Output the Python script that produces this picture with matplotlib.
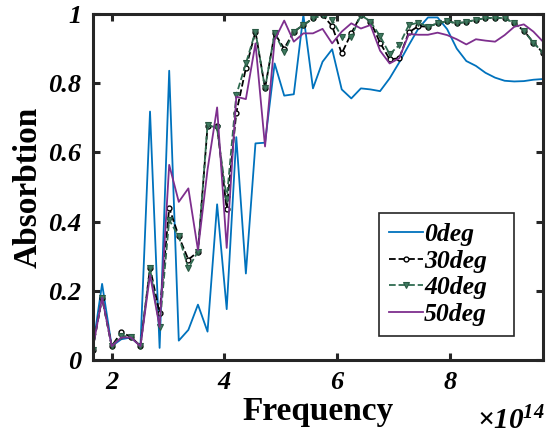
import matplotlib
matplotlib.use('Agg')
import matplotlib.pyplot as plt

# frequency grid (units of 1e14 Hz)
freq = [1.66, 1.83, 2.00, 2.17, 2.34, 2.51, 2.68, 2.85, 3.02, 3.19, 3.36, 3.53,
        3.70, 3.87, 4.04, 4.21, 4.38, 4.55, 4.72, 4.89, 5.06, 5.23, 5.40, 5.57,
        5.74, 5.91, 6.08, 6.25, 6.42, 6.59, 6.76, 6.93, 7.10, 7.27, 7.44, 7.61,
        7.78, 7.95, 8.12, 8.29, 8.46, 8.63, 8.80, 8.97, 9.14, 9.31, 9.48, 9.65]

abs_0deg = [0.03, 0.22, 0.04, 0.06, 0.065, 0.04, 0.718, 0.035, 0.836, 0.056, 0.087, 0.16,
            0.082, 0.45, 0.147, 0.644, 0.25, 0.626, 0.628, 0.857, 0.764, 0.768, 0.997, 0.785,
            0.862, 0.898, 0.782, 0.756, 0.785, 0.782, 0.777, 0.814, 0.86, 0.91, 0.958, 0.99,
            0.99, 0.956, 0.90, 0.864, 0.85, 0.83, 0.816, 0.807, 0.805, 0.806, 0.81, 0.812]

abs_30deg = [0.03, 0.18, 0.04, 0.08, 0.067, 0.04, 0.267, 0.135, 0.44, 0.357, 0.29, 0.313,
             0.675, 0.675, 0.436, 0.715, 0.843, 0.949, 0.785, 0.944, 0.90, 0.949, 0.968, 0.987,
             0.997, 0.965, 0.886, 0.944, 0.997, 0.978, 0.917, 0.869, 0.872, 0.947, 0.965, 0.963,
             0.973, 0.979, 0.973, 0.977, 0.983, 0.988, 0.989, 0.988, 0.973, 0.952, 0.917, 0.888]

abs_40deg = [0.03, 0.18, 0.04, 0.07, 0.067, 0.04, 0.265, 0.096, 0.405, 0.357, 0.266, 0.313,
             0.68, 0.67, 0.465, 0.766, 0.857, 0.949, 0.785, 0.944, 0.89, 0.949, 0.968, 0.987,
             0.997, 0.983, 0.934, 0.934, 0.997, 0.978, 0.936, 0.884, 0.91, 0.968, 0.975, 0.963,
             0.973, 0.979, 0.973, 0.977, 0.983, 0.988, 0.989, 0.988, 0.973, 0.952, 0.917, 0.888]

abs_50deg = [0.03, 0.18, 0.04, 0.065, 0.065, 0.04, 0.246, 0.096, 0.564, 0.457, 0.496, 0.318,
             0.55, 0.73, 0.324, 0.761, 0.754, 0.915, 0.617, 0.925, 0.981, 0.92, 0.944, 0.944,
             0.957, 0.915, 0.949, 0.973, 0.958, 0.968, 0.894, 0.857, 0.872, 0.942, 0.94, 0.94,
             0.946, 0.939, 0.927, 0.912, 0.927, 0.923, 0.92, 0.939, 0.963, 0.97, 0.949, 0.92]

serif = 'Liberation Serif'
plt.rcParams['font.family'] = serif
plt.rcParams['mathtext.fontset'] = 'custom'
plt.rcParams['mathtext.rm'] = 'Liberation Serif:italic:bold'
plt.rcParams['mathtext.it'] = 'Liberation Serif:italic:bold'

fig = plt.figure(figsize=(5.52, 4.37), dpi=100)
ax = fig.add_axes([0.1676, 0.1762, 0.8161, 0.7918])

ax.plot(freq, abs_0deg, color='#0072BD', lw=1.3, label='0deg')
ax.plot(freq, abs_30deg, color='black', lw=1.3, ls='--', marker='o', ms=3.5,
        mfc='white', mec='black', mew=1.0, label='30deg')
ax.plot(freq, abs_40deg, color='#2F6B50', lw=1.3, ls='--', marker='v', ms=4.5,
        mfc='#3F7A60', mec='#2A5A44', mew=0.8, label='40deg')
ax.plot(freq, abs_50deg, color='#7E2F8E', lw=1.3, label='50deg')

ax.set_xlim(freq[0], freq[-1])
ax.set_ylim(0, 1)
ax.set_xticks([2, 4, 6, 8])
ax.set_yticks([0, 0.2, 0.4, 0.6, 0.8, 1])
ax.set_yticklabels(['0', '0.2', '0.4', '0.6', '0.8', '1'])

for sp in ax.spines.values():
    sp.set_linewidth(2.2)
    sp.set_color('#262626')
ax.tick_params(direction='in', length=5, width=2.2, top=True, right=True,
               labelsize=19, pad=8, colors='#262626')
for lab in ax.get_xticklabels() + ax.get_yticklabels():
    lab.set_fontstyle('italic')
    lab.set_fontweight('bold')
    lab.set_color('black')

ax.set_xlabel('Frequency', fontsize=24, fontweight='bold', labelpad=1)
ax.set_ylabel('Absorbtion', fontsize=24, fontweight='bold', labelpad=3)

fig.text(0.986, 0.004, r'$\times10^{14}$', fontsize=21, ha='right', va='bottom')

# legend box stretched to a fixed width, entries left-aligned
leg = ax.legend(loc='upper left', bbox_to_anchor=(0.636, 0.075, 0.30, 0.35), mode='expand',
                prop={'family': serif, 'style': 'italic', 'weight': 'bold', 'size': 18.5},
                handlelength=1.3, handletextpad=0.05, labelspacing=0.14,
                borderpad=0.4, borderaxespad=0, fancybox=False, framealpha=1,
                edgecolor='#262626')
leg.get_frame().set_linewidth(1.2)

fig.savefig('out.png', dpi=100)
